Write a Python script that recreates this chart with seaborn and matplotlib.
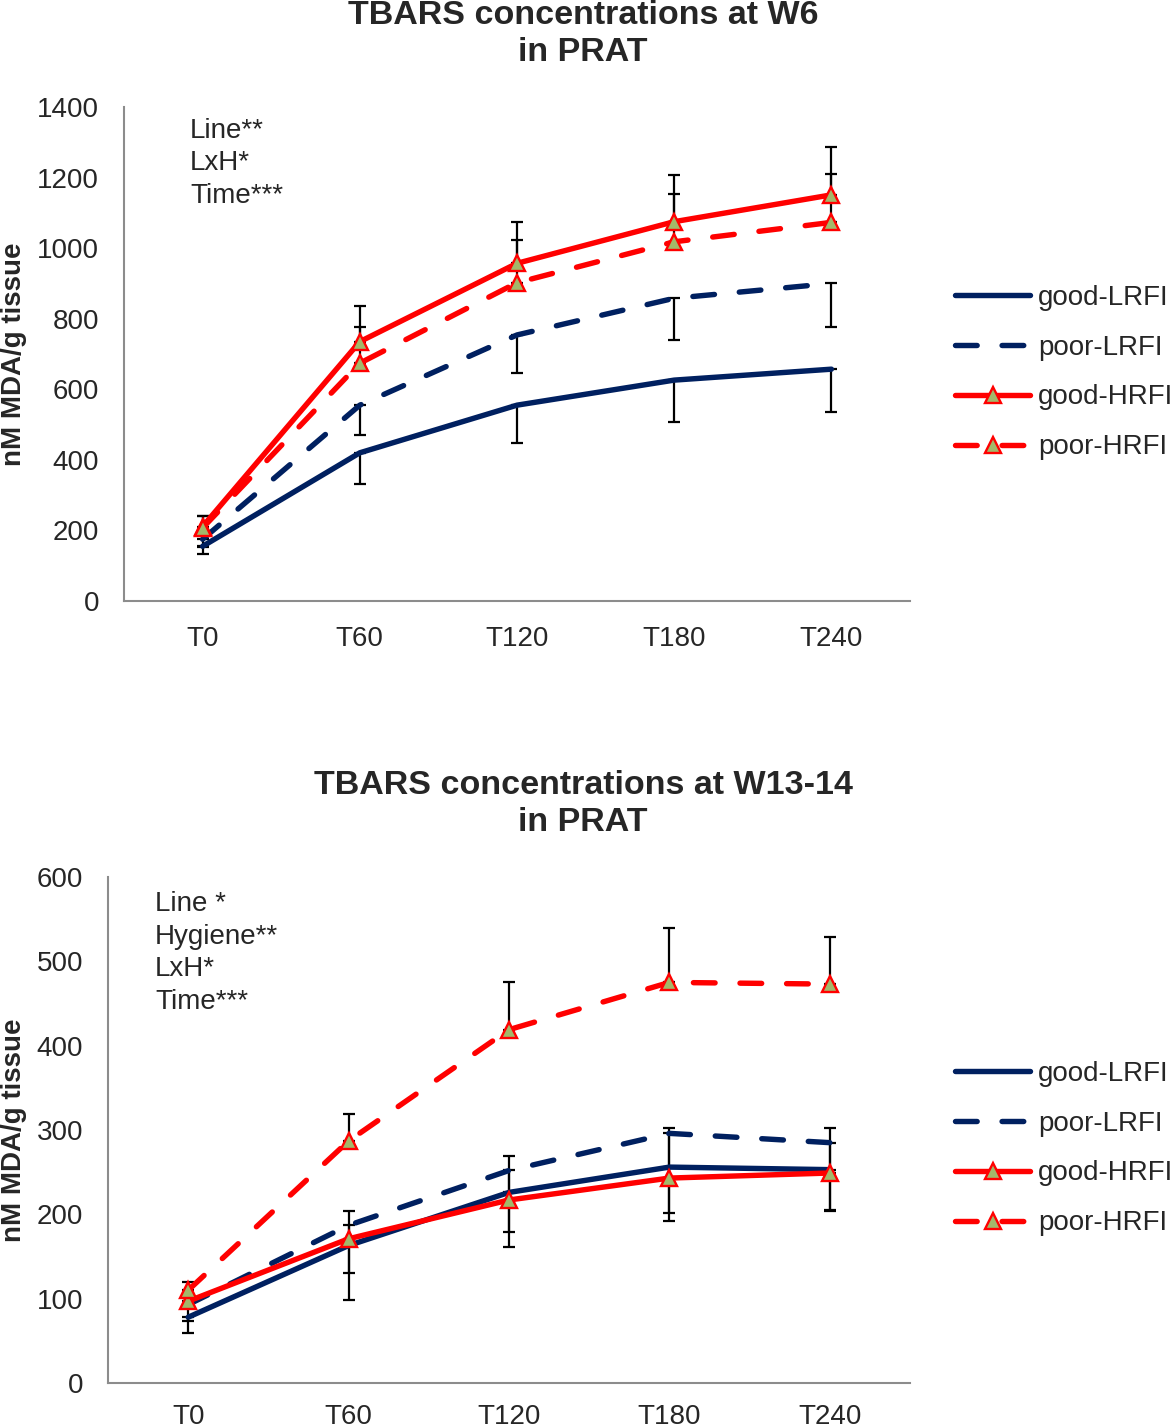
import matplotlib
matplotlib.use("Agg")
import matplotlib.pyplot as plt
import seaborn as sns

sns.set_style("white")
plt.rcParams["font.family"] = ["Liberation Sans", "DejaVu Sans"]

# --- data ------------------------------------------------------------------
times = ["T0", "T60", "T120", "T180", "T240"]
series = ["good-LRFI", "poor-LRFI", "good-HRFI", "poor-HRFI"]

# W6 panel (nM MDA/g tissue)
w6_good_lrfi = [155, 420, 555, 626, 657]
w6_poor_lrfi = [175, 555, 754, 858, 900]
w6_good_hrfi = [211, 735, 957, 1075, 1151]
w6_poor_hrfi = [207, 674, 902, 1018, 1073]
# one-sided error bars: LRFI drawn downwards, HRFI upwards
w6_good_lrfi_err = [22, 88, 108, 120, 122]
w6_poor_lrfi_err = [22, 85, 109, 118, 123]
w6_good_hrfi_err = [30, 102, 116, 132, 137]
w6_poor_hrfi_err = [34, 102, 120, 135, 137]

# W13-14 panel
w13_good_lrfi = [78, 163, 226, 256, 253]
w13_poor_lrfi = [93, 187, 252, 296, 285]
w13_good_hrfi = [97, 171, 217, 243, 249]
w13_poor_hrfi = [110, 287, 419, 475, 473]
w13_good_lrfi_err = [19, 65, 65, 64, 49]
w13_poor_lrfi_err = [20, 56, 73, 94, 80]
w13_good_hrfi_err = [8, 33, 52, 59, 53]
w13_poor_hrfi_err = [10, 32, 56, 64, 56]

w6_effects = ["Line**", "LxH*", "Time***"]
w13_effects = ["Line *", "Hygiene**", "LxH*", "Time***"]

NAVY = "#002060"
RED = "#ff0000"
OLIVE = "#a3b86a"
FS = 20

styles = {
    "good-LRFI": dict(color=NAVY, linestyle="-", marker=None),
    "poor-LRFI": dict(color=NAVY, linestyle=(0, (4.0, 4.6)), marker=None),
    "good-HRFI": dict(color=RED, linestyle="-", marker="^"),
    "poor-HRFI": dict(color=RED, linestyle=(0, (4.0, 4.6)), marker="^"),
}


def draw_panel(ax, means, errs, yticks, effects, eff_x, eff_y0, eff_dy, xpad):
    handles = []
    for name, vals, err in zip(series, means, errs):
        st = styles[name]
        down = "LRFI" in name
        lower = err if down else [0] * len(err)
        upper = [0] * len(err) if down else err
        ax.errorbar(times, vals, yerr=[lower, upper], fmt="none", ecolor="black",
                    elinewidth=1.6, capsize=4.3, capthick=1.6, zorder=1)
        kw = dict(color=st["color"], linestyle=st["linestyle"], linewidth=3.9,
                  solid_capstyle="round", dash_capstyle="round")
        if st["marker"]:
            kw.update(marker="^", markersize=11, markerfacecolor=OLIVE,
                      markeredgecolor=RED, markeredgewidth=1.7)
        sns.lineplot(x=times, y=vals, ax=ax, sort=False, legend=False, zorder=3, **kw)
        line = ax.lines[-1]
        line.set_label(name)
        handles.append(line)

    ax.set_xlim(-0.5, 4.5)
    ax.set_ylim(yticks[0], yticks[-1])
    ax.set_yticks(yticks)
    ax.set_xlabel("")
    ax.set_ylabel("")
    ax.tick_params(axis="both", length=0, labelsize=FS)
    ax.tick_params(axis="x", pad=xpad)
    ax.tick_params(axis="y", pad=18)
    sns.despine(ax=ax)
    for sp in ("left", "bottom"):
        ax.spines[sp].set_color("#8c8c8c")
        ax.spines[sp].set_linewidth(1.5)

    for i, t in enumerate(effects):
        ax.text(eff_x, eff_y0 - i * eff_dy, t, transform=ax.transAxes,
                fontsize=FS, ha="left", va="center")
    return handles


W, H = 1175, 1427
fig = plt.figure(figsize=(W / 100, H / 100), dpi=100)

ax1 = fig.add_axes([124 / W, 1 - 601 / H, (910 - 124) / W, (601 - 107) / H])
h1 = draw_panel(ax1,
                [w6_good_lrfi, w6_poor_lrfi, w6_good_hrfi, w6_poor_hrfi],
                [w6_good_lrfi_err, w6_poor_lrfi_err, w6_good_hrfi_err, w6_poor_hrfi_err],
                list(range(0, 1401, 200)), w6_effects,
                (190 - 124) / 786, (601 - 131) / 494, 32.5 / 494, 18)

ax2 = fig.add_axes([108 / W, 1 - 1383 / H, (910 - 108) / W, (1383 - 877) / H])
h2 = draw_panel(ax2,
                [w13_good_lrfi, w13_poor_lrfi, w13_good_hrfi, w13_poor_hrfi],
                [w13_good_lrfi_err, w13_poor_lrfi_err, w13_good_hrfi_err, w13_poor_hrfi_err],
                list(range(0, 601, 100)), w13_effects,
                (155 - 108) / 802, (1383 - 904) / 506, 32.7 / 506, 15)

# titles and y labels
fig.text(583 / W, 1 - 34 / H, "TBARS concentrations at W6\nin PRAT", ha="center",
         va="center", fontsize=24.5, fontweight="bold", linespacing=1.27)
fig.text(583 / W, 1 - 804 / H, "TBARS concentrations at W13-14\nin PRAT", ha="center",
         va="center", fontsize=24.5, fontweight="bold", linespacing=1.27)
fig.text(14 / W, 1 - 354 / H, "nM MDA/g tissue", rotation=90, ha="center", va="center",
         fontsize=FS, fontweight="bold")
fig.text(14 / W, 1 - 1130 / H, "nM MDA/g tissue", rotation=90, ha="center", va="center",
         fontsize=FS, fontweight="bold")

for handles, yc in ((h1, 372.5), (h2, 1148.5)):
    fig.legend(handles=handles, labels=series, loc="center left",
               bbox_to_anchor=(955 / W, 1 - yc / H), frameon=False, fontsize=FS,
               handlelength=2.7, handletextpad=0.3, labelspacing=0.86,
               borderpad=0, borderaxespad=0)

fig.savefig("out.png", dpi=100)
